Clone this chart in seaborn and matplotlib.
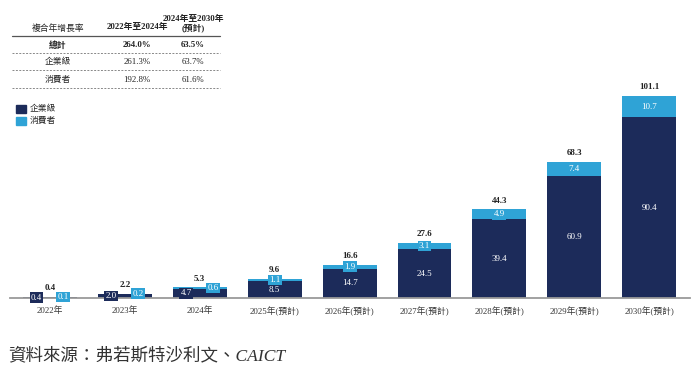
import pandas as pd
import matplotlib
matplotlib.use("Agg")
import matplotlib.pyplot as plt
import seaborn as sns

# data
years = ["2022年", "2023年", "2024年", "2025年(預計)", "2026年(預計)",
         "2027年(預計)", "2028年(預計)", "2029年(預計)", "2030年(預計)"]
enterprise = [0.4, 2.0, 4.7, 8.5, 14.7, 24.5, 39.4, 60.9, 90.4]
consumer = [0.1, 0.2, 0.6, 1.1, 1.9, 3.1, 4.9, 7.4, 10.7]
totals = [0.4, 2.2, 5.3, 9.6, 16.6, 27.6, 44.3, 68.3, 101.1]

# CAGR table
cagr_rows = ["總計", "企業級", "消費者"]
cagr_2022_2024 = ["264.0%", "261.3%", "192.8%"]
cagr_2024_2030 = ["63.5%", "63.7%", "61.6%"]

DARK = "#1c2b5a"
LIGHT = "#2fa3d6"

df = pd.DataFrame({"year": years, "enterprise": enterprise, "consumer": consumer})
df["stack"] = df["enterprise"] + df["consumer"]

sns.set_theme(style="white")
plt.rcParams["font.family"] = ["Liberation Serif", "Noto Sans CJK TC"]

W, H = 692, 371
fig = plt.figure(figsize=(W / 100, H / 100), dpi=100)
ax = fig.add_axes([10 / W, 73 / H, 680 / W, 219.8 / H])

sns.barplot(data=df, x="year", y="stack", color=LIGHT, saturation=1,
            width=0.72, linewidth=0, ax=ax)
sns.barplot(data=df, x="year", y="enterprise", color=DARK, saturation=1,
            width=0.72, linewidth=0, ax=ax)

ax.set_ylim(0, 110)
ax.set_xlim(-0.534, 8.545)
ax.set_xlabel("")
ax.set_ylabel("")
ax.set_yticks([])
for s in ["top", "left", "right"]:
    ax.spines[s].set_visible(False)
ax.spines["bottom"].set_color("#9a9a9a")
ax.spines["bottom"].set_linewidth(1.3)
ax.tick_params(axis="x", length=0, pad=6, labelsize=6.3, colors="#333333")

# value labels
for i, (e, c, t) in enumerate(zip(enterprise, consumer, totals)):
    dx = 0.18 if i < 3 else 0
    ax.text(i - dx, e / 2, f"{e}", ha="center", va="center", color="white",
            fontsize=6.5,
            bbox=dict(boxstyle="square,pad=0.15", fc=DARK, ec="none"))
    ax.text(i + dx, e + c / 2, f"{c}", ha="center", va="center", color="white",
            fontsize=6.5,
            bbox=dict(boxstyle="square,pad=0.15", fc=LIGHT, ec="none"))
    ax.annotate(f"{t}", (i, e + c), xytext=(0, 3.5), textcoords="offset points",
                ha="center", va="bottom", fontsize=6.5, fontweight="bold",
                color="#222222")

# CAGR table drawn in pixel coords
def px(x, y):
    return x / W, 1 - y / H

tkw = dict(ha="center", va="center", fontsize=6.3, color="#222222")
fig.text(*px(58, 29), "複合年增長率", **tkw)
fig.text(*px(137, 27), "2022年至2024年", fontweight="bold", **tkw)
fig.text(*px(193, 19), "2024年至2030年", fontweight="bold", **tkw)
fig.text(*px(193, 29), "(預計)", fontweight="bold", **tkw)
fig.add_artist(plt.Line2D([12 / W, 220 / W], [1 - 36 / H] * 2, color="#555555", lw=0.9))

row_y = [45, 62, 80]
for k, (name, a, b) in enumerate(zip(cagr_rows, cagr_2022_2024, cagr_2024_2030)):
    fw = "bold" if k == 0 else "normal"
    fig.text(*px(58, row_y[k]), name, fontweight=fw, **tkw)
    fig.text(*px(137, row_y[k]), a, fontweight=fw, **tkw)
    fig.text(*px(193, row_y[k]), b, fontweight=fw, **tkw)
    yl = 1 - (row_y[k] + 8) / H
    fig.add_artist(plt.Line2D([12 / W, 220 / W], [yl, yl], color="#888888",
                              lw=0.7, ls=(0, (2, 1.5))))

# legend
for k, (lab, col) in enumerate(zip(["企業級", "消費者"], [DARK, LIGHT])):
    y0 = 105 + k * 12
    fig.add_artist(plt.Rectangle((16 / W, 1 - (y0 + 8) / H), 10 / W, 8 / H,
                                 color=col, transform=fig.transFigure))
    fig.text(*px(30, y0 + 4), lab, ha="left", va="center", fontsize=6.3,
             color="#222222")

# source
fig.text(*px(8, 356), "資料來源：弗若斯特沙利文、CAICT", ha="left", va="center",
         fontsize=12.6, style="italic", color="#333333")

fig.savefig("out.png", dpi=100)
